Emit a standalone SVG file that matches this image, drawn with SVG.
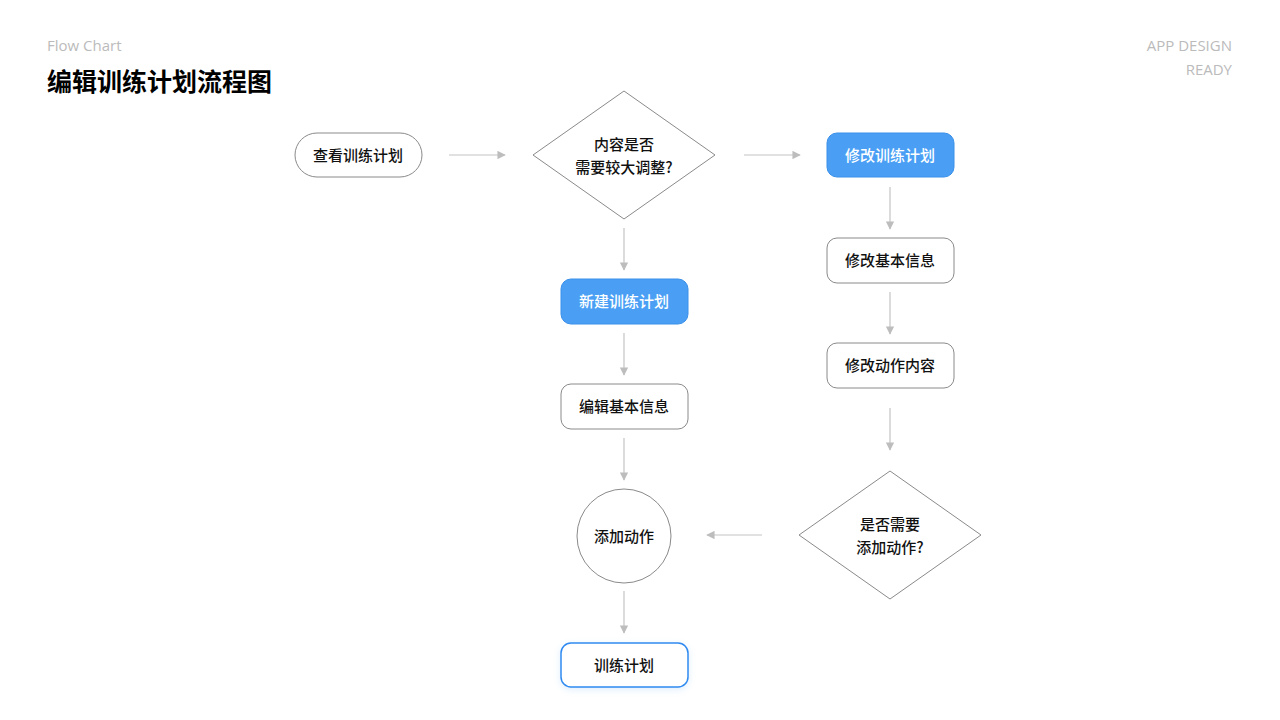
<svg xmlns="http://www.w3.org/2000/svg" width="1280" height="720" viewBox="0 0 1280 720">
<style>
text{font-family:"Noto Sans CJK SC","Noto Sans",sans-serif;}
.t{font-size:15px;font-weight:500;fill:#111;text-anchor:middle;}
.w{fill:#fff;}
.n{fill:#fff;stroke:#8a8a8a;stroke-width:1;}
.b{fill:#4a9ff5;stroke:#3a8fe8;stroke-width:1;}
.c line{stroke:#c4c4c4;stroke-width:1.2;}
</style>
<defs>
<marker id="a" viewBox="0 0 10 10" refX="9" refY="5" markerWidth="7" markerHeight="7" orient="auto"><path d="M0,0L10,5L0,10z" fill="#bdbdbd"/></marker>
<filter id="s" x="-20%" y="-30%" width="140%" height="160%"><feDropShadow dx="0" dy="2" stdDeviation="3" flood-color="#4a9ff5" flood-opacity="0.18"/></filter>
</defs>
<rect width="1280" height="720" fill="#fff"/>
<text x="47" y="51" font-size="15" fill="#bbb" style="font-family:'Open Sans','Noto Sans',sans-serif">Flow Chart</text>
<text x="47" y="91" font-size="25" font-weight="700" fill="#000">编辑训练计划流程图</text>
<text x="1232" y="51" font-size="15" fill="#bbb" text-anchor="end" style="font-family:'Open Sans','Noto Sans',sans-serif">APP DESIGN</text>
<text x="1232" y="75" font-size="15" fill="#bbb" text-anchor="end" style="font-family:'Open Sans','Noto Sans',sans-serif">READY</text>
<g class="c" marker-end="url(#a)">
<line x1="449" y1="155" x2="505" y2="155" marker-end="url(#a)"/>
<line x1="744" y1="155" x2="800" y2="155" marker-end="url(#a)"/>
<line x1="624" y1="228" x2="624" y2="270" marker-end="url(#a)"/>
<line x1="890" y1="187" x2="890" y2="229" marker-end="url(#a)"/>
<line x1="890" y1="292" x2="890" y2="334" marker-end="url(#a)"/>
<line x1="624" y1="333" x2="624" y2="375" marker-end="url(#a)"/>
<line x1="890" y1="408" x2="890" y2="450" marker-end="url(#a)"/>
<line x1="624" y1="438" x2="624" y2="480" marker-end="url(#a)"/>
<line x1="762" y1="535" x2="707" y2="535" marker-end="url(#a)"/>
<line x1="624" y1="591" x2="624" y2="633" marker-end="url(#a)"/>
</g>
<g id="n1"><rect class="n" x="295" y="133" width="127" height="44" rx="22"/><text class="t" x="358" y="161">查看训练计划</text></g>
<g id="n2"><polygon class="n" points="624,91 715,155 624,219 533,155"/><text class="t" x="624" y="150">内容是否</text><text class="t" x="624" y="173">需要较大调整?</text></g>
<g id="n3"><rect class="b" x="827" y="133" width="127" height="44" rx="10"/><text class="t w" x="890" y="161">修改训练计划</text></g>
<g id="n4"><rect class="n" x="827" y="238" width="127" height="45" rx="10"/><text class="t" x="890" y="266">修改基本信息</text></g>
<g id="n5"><rect class="n" x="827" y="343" width="127" height="45" rx="10"/><text class="t" x="890" y="371">修改动作内容</text></g>
<g id="n6"><polygon class="n" points="890,471 981,535 890,599 799,535"/><text class="t" x="890" y="530">是否需要</text><text class="t" x="890" y="553">添加动作?</text></g>
<g id="n7"><rect class="b" x="561" y="279" width="127" height="45" rx="10"/><text class="t w" x="624" y="307">新建训练计划</text></g>
<g id="n8"><rect class="n" x="561" y="384" width="127" height="45" rx="10"/><text class="t" x="624" y="412">编辑基本信息</text></g>
<g id="n9"><circle class="n" cx="624" cy="536" r="47"/><text class="t" x="624" y="542">添加动作</text></g>
<g id="n10"><rect x="561" y="643" width="127" height="44" rx="10" fill="#fff" stroke="#2f8af0" stroke-width="1.5" filter="url(#s)"/><text class="t" x="624" y="671">训练计划</text></g>
</svg>
